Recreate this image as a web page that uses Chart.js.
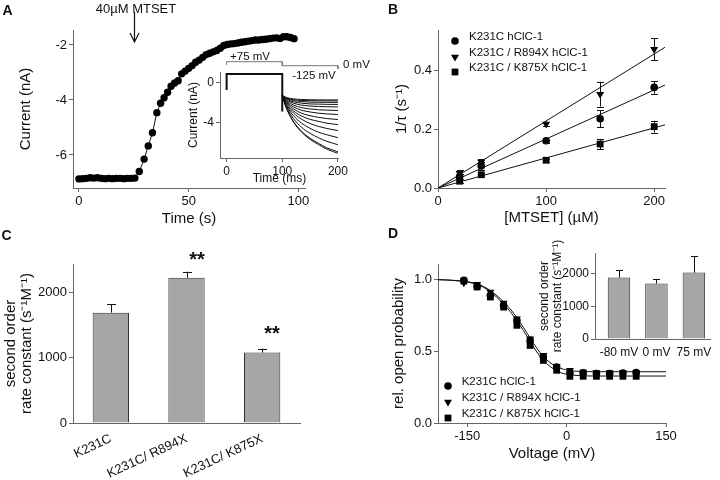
<!DOCTYPE html>
<html><head><meta charset="utf-8">
<script src="https://cdn.jsdelivr.net/npm/chart.js@4.4.1/dist/chart.umd.min.js"></script>
<style>
html,body{margin:0;padding:0;background:#fff}
body{width:720px;height:480px;position:relative;overflow:hidden;font-family:"Liberation Sans",Arial,Helvetica,sans-serif;color:#111}
canvas{position:absolute}
.t{position:absolute;white-space:nowrap;line-height:1}
.m{position:absolute;width:10px;height:10px}
</style></head><body>
<canvas id="cA" width="360" height="240" style="left:0;top:0"></canvas>
<canvas id="cAi" width="190" height="130" style="left:160px;top:60px"></canvas>
<canvas id="cB" width="360" height="240" style="left:360px;top:0"></canvas>
<canvas id="cC" width="360" height="240" style="left:0;top:240px"></canvas>
<canvas id="cD" width="360" height="240" style="left:360px;top:240px"></canvas>
<canvas id="cDi" width="185" height="122" style="left:535px;top:238px"></canvas>
<script>
// ================= DATA =================
// Panel A: time course of current during 40 µM MTSET
const mtsetTime = 25;
const timeA = [0,1.7,3.4,5.1,6.8,8.5,10.2,11.9,13.6,15.3,17,18.7,20.4,22.1,23.8,25.5,27.5,29.7,31.6,33.5,35.5,37.2,38.8,40.4,42.0,43.6,45.2,46.8,48.4,50.0,51.6,53.2,54.8,56.4,58.0,59.6,61.2,62.8,64.4,66.0,67.6,69.2,70.8,72.4,74.0,75.6,77.2,78.8,80.4,82.0,83.6,85.2,86.8,88.4,90.0,91.6,93.2,94.8,96.4,98.0];
const currentA = [-6.87,-6.86,-6.85,-6.83,-6.84,-6.83,-6.85,-6.86,-6.85,-6.86,-6.85,-6.85,-6.86,-6.85,-6.85,-6.84,-6.6,-6.15,-5.67,-5.19,-4.46,-4.12,-3.92,-3.72,-3.5,-3.38,-3.3,-3.05,-2.95,-2.85,-2.75,-2.63,-2.55,-2.45,-2.35,-2.3,-2.25,-2.2,-2.12,-2.02,-1.98,-1.96,-1.95,-1.93,-1.9,-1.88,-1.86,-1.84,-1.82,-1.82,-1.8,-1.79,-1.77,-1.75,-1.74,-1.76,-1.7,-1.7,-1.73,-1.77];
const ticksAx = [0,50,100];
const ticksAy = [-2,-4,-6];

// Panel A inset: current traces (ms, nA)
const prepulseTime = [0,0,0,100,100,100];
const prepulseCurrent = [0.82,-0.76,0.82,0.82,-2.9,-1.3];
const traceTime = [100,105,110,120,135,150,165,180,200];
const traceCurrents = [
  [-1.3,-1.46,-1.55,-1.65,-1.71,-1.74,-1.75,-1.75,-1.75],
  [-1.3,-1.49,-1.6,-1.73,-1.81,-1.83,-1.84,-1.85,-1.85],
  [-1.3,-1.52,-1.65,-1.82,-1.92,-1.97,-1.99,-1.99,-2.0],
  [-1.3,-1.57,-1.73,-1.94,-2.08,-2.15,-2.17,-2.19,-2.2],
  [-1.3,-1.62,-1.82,-2.08,-2.27,-2.36,-2.4,-2.43,-2.45],
  [-1.3,-1.69,-1.93,-2.26,-2.52,-2.65,-2.73,-2.77,-2.8],
  [-1.3,-1.76,-2.04,-2.44,-2.78,-2.95,-3.07,-3.14,-3.2],
  [-1.3,-1.83,-2.16,-2.64,-3.08,-3.32,-3.48,-3.6,-3.7],
  [-1.3,-1.88,-2.29,-2.84,-3.36,-3.68,-3.88,-4.06,-4.2],
  [-1.3,-1.97,-2.42,-3.05,-3.68,-4.1,-4.38,-4.59,-4.8],
  [-1.3,-2.06,-2.56,-3.32,-4.07,-4.58,-4.95,-5.21,-5.5],
  [-1.3,-2.13,-2.72,-3.6,-4.49,-5.07,-5.51,-5.86,-6.2],
  [-1.3,-2.2,-2.87,-3.88,-4.88,-5.56,-6.06,-6.51,-6.9],
  [-1.3,-2.2,-2.9,-3.95,-4.97,-5.67,-6.18,-6.64,-7.05]
];
const protocolTime = [0,0,100,100,200,200];
const protocolLevel = [93,96.3,96.3,92.3,92.3,89];   // schematic step levels (+75 / -125 / 0 mV)
const ticksAix = [0,100,200];
const ticksAiy = [0,-4];

// Panel B: 1/tau vs [MTSET]
const conc = [20,40,100,150,200];
const rateWT = [0.039,0.075,0.16,0.235,0.341];
const errWT = [0.01,0.014,0.006,0.029,0.021];
const rateR894X = [0.05,0.088,0.217,0.318,0.47];
const errR894X = [0.01,0.01,0.008,0.042,0.037];
const rateK875X = [0.023,0.045,0.094,0.149,0.208];
const errK875X = [0.006,0.006,0.005,0.017,0.02];
const fitConc = [0,210];
const fitWT = [0,0.349];
const fitR894X = [0,0.477];
const fitK875X = [0,0.214];
const ticksBx = [0,100,200];
const ticksBy = [0,0.2,0.4];
const seriesNames = ['K231C hClC-1','K231C / R894X hClC-1','K231C / K875X hClC-1'];

// Panel C: second order rate constants
const constructsC = ['K231C','K231C/ R894X','K231C/ K875X'];
const rateC = [1690,2226,1078];
const errC = [127,92,61];
const signifC = ['','**','**'];
const ticksCy = [0,1000,2000];

// Panel D: relative open probability
const voltD = [-155,-135,-115,-95,-75,-55,-35,-15,5,25,45,65,85,105];
const poWT = [0.993,0.951,0.889,0.819,0.715,0.575,0.459,0.39,0.352,0.35,0.345,0.345,0.348,0.352];
const poR894X = [0.977,0.965,0.912,0.835,0.726,0.587,0.471,0.394,0.367,0.355,0.352,0.352,0.352,0.352];
const poK875X = [0.988,0.947,0.877,0.807,0.68,0.54,0.436,0.367,0.325,0.325,0.325,0.325,0.325,0.325];
const fitVolt = [-194,-180,-170,-160,-150,-140,-130,-120,-110,-100,-90,-80,-70,-60,-50,-40,-30,-20,-10,0,10,20,30,40,60,80,100,150];
const fitUpper = [0.998,0.996,0.993,0.99,0.985,0.975,0.96,0.937,0.905,0.866,0.82,0.765,0.70,0.628,0.555,0.49,0.44,0.405,0.382,0.369,0.362,0.359,0.358,0.357,0.357,0.357,0.357,0.357];
const fitLower = [0.998,0.995,0.992,0.988,0.982,0.971,0.955,0.93,0.895,0.852,0.803,0.745,0.68,0.605,0.53,0.463,0.413,0.377,0.352,0.339,0.333,0.33,0.328,0.327,0.327,0.327,0.327,0.327];
const ticksDx = [-150,0,150];
const ticksDy = [0,0.5,1.0];

// Panel D inset: rate constants at different voltages
const voltagesDi = ['-80 mV','0 mV','75 mV'];
const rateDi = [1878,1694,2030];
const errDi = [222,132,500];
const ticksDiy = [0,1000,2000];

// ================= HELPERS =================
const FONT = "'Liberation Sans', Arial, Helvetica, sans-serif";
Chart.defaults.font.family = FONT;
Chart.defaults.color = '#111';
Chart.defaults.animation = false;
Chart.defaults.responsive = false;
Chart.defaults.events = [];
Chart.defaults.plugins.legend.display = false;
Chart.defaults.plugins.tooltip.enabled = false;
const AXC = '#666';
const BAR = '#a6a6a6';

function pts(xs, ys){ return xs.map((x,i)=>({x:x, y:ys[i]})); }

function ax(o){
  const a = {
    type: o.type || 'linear',
    display: o.display === undefined ? true : o.display,
    bounds: 'data',
    border: {display:true, color:AXC, width:1},
    grid: {display: o.grid !== false, drawOnChartArea:false, drawTicks:true, tickLength:4, color:AXC, lineWidth:1, offset:false},
    ticks: {font:{size:o.fs||13}, color:'#111', padding: o.tp===undefined?2:o.tp, maxRotation:o.rot||0, minRotation:o.rot||0, autoSkip:false},
    title: o.title ? {display:true, text:o.title, color:'#111', font:{size:o.tfs||15, lineHeight:o.tlh||1.2}, padding:o.tpad} : {display:false},
    afterFit: s => { if (o.h !== undefined) s.height = o.h; if (o.w !== undefined) s.width = o.w; }
  };
  if (o.min !== undefined) a.min = o.min;
  if (o.max !== undefined) a.max = o.max;
  if (o.fmt) a.ticks.callback = o.fmt;
  if (o.ticks) a.afterBuildTicks = s => { s.ticks = o.ticks.map(v=>({value:v})); };
  a.offset = o.offset === undefined ? false : o.offset;
  return a;
}

const errorBars = {
  id: 'errorBars',
  afterDatasetsDraw(chart){
    const ctx = chart.ctx;
    chart.data.datasets.forEach((ds, i) => {
      if (!ds.err) return;
      const meta = chart.getDatasetMeta(i);
      const ys = chart.scales[meta.yAxisID];
      ctx.save();
      ctx.strokeStyle = '#111'; ctx.lineWidth = 1;
      meta.data.forEach((el, j) => {
        const d = ds.data[j];
        const v = (typeof d === 'object') ? d.y : d;
        const e = ds.err[j];
        const x = Math.round(el.x) + 0.5;
        const yT = ys.getPixelForValue(v + e);
        const yB = ds.upOnly ? ys.getPixelForValue(v) : ys.getPixelForValue(v - e);
        const c = ds.capW / 2;
        ctx.beginPath();
        ctx.moveTo(x, yB); ctx.lineTo(x, yT);
        ctx.moveTo(x - c, Math.round(yT)+0.5); ctx.lineTo(x + c, Math.round(yT)+0.5);
        if (!ds.upOnly) { ctx.moveTo(x - c, Math.round(yB)+0.5); ctx.lineTo(x + c, Math.round(yB)+0.5); }
        ctx.stroke();
      });
      ctx.restore();
    });
  }
};
Chart.register(errorBars);

const arrowPlugin = {
  id: 'mtsetArrow',
  afterDraw(chart){
    if (chart.canvas.id !== 'cA') return;
    const ctx = chart.ctx;
    const x = Math.round(chart.scales.x.getPixelForValue(mtsetTime)) + 0.5;
    const top = chart.chartArea.top;
    ctx.save();
    ctx.strokeStyle = '#111'; ctx.lineWidth = 1.2;
    ctx.beginPath();
    ctx.moveTo(x, top - 18); ctx.lineTo(x, top + 12);
    ctx.moveTo(x - 4.5, top + 3); ctx.lineTo(x, top + 12); ctx.lineTo(x + 4.5, top + 3);
    ctx.stroke();
    ctx.restore();
  }
};
Chart.register(arrowPlugin);

const base = (pad) => ({responsive:false, animation:false, layout:{padding:pad}});

// ================= PANEL A =================
new Chart(document.getElementById('cA'), {
  type: 'scatter',
  data: {datasets: [{
    data: pts(timeA, currentA), showLine: true, borderColor: '#111', borderWidth: 1,
    pointRadius: 3.7, pointBackgroundColor: '#000', pointBorderWidth: 0
  }]},
  options: Object.assign(base({left:0, top:30, right:55, bottom:0}), {
    scales: {
      x: ax({min:-2.7, max:103, ticks:ticksAx, fmt:v=>String(v), h:52, title:'Time (s)', tpad:{top:0,bottom:12}}),
      y: ax({min:-7.2, max:-1.455, ticks:ticksAy, fmt:v=>String(v), w:73, title:'Current (nA)', tpad:{top:17,bottom:0}})
    }
  })
});

// ================= PANEL A INSET =================
const insetSets = traceCurrents.map(tr => ({
  data: pts(traceTime, tr), showLine: true, borderColor: '#111', borderWidth: 1,
  pointRadius: 0, cubicInterpolationMode: 'monotone'
}));
insetSets.push({data: pts(prepulseTime, prepulseCurrent), showLine: true, borderColor: '#111', borderWidth: 2, pointRadius: 0});
insetSets.push({data: pts(protocolTime, protocolLevel), showLine: true, borderColor: '#777', borderWidth: 1, pointRadius: 0, yAxisID: 'yp', clip: false});
new Chart(document.getElementById('cAi'), {
  type: 'scatter',
  data: {datasets: insetSets},
  options: Object.assign(base({left:0, top:12, right:10, bottom:0}), {
    scales: {
      x: ax({min:-11.9, max:201.6, ticks:ticksAix, fmt:v=>String(v), fs:12, h:32, title:'Time (ms)', tfs:12, tpad:{top:0,bottom:3.8}}),
      y: ax({min:-7.52, max:1.02, ticks:ticksAiy, fmt:v=>String(v), fs:12, w:60, title:'Current (nA)', tfs:12, tpad:{top:26.8,bottom:0}}),
      yp: {type:'linear', display:false, min:0, max:86}
    }
  })
});

// ================= PANEL B =================
const markerStyles = [
  {pointStyle:'circle', pointRadius:3.8, pointRotation:0},
  {pointStyle:'triangle', pointRadius:4.6, pointRotation:180},
  {pointStyle:'rect', pointRadius:4.8, pointRotation:0}
];
function markerSet(xs, ys, k, err){
  return Object.assign({data: pts(xs, ys), pointBackgroundColor:'#000', pointBorderColor:'#000', pointBorderWidth:0, showLine:false, err: err, capW: 7}, markerStyles[k]);
}
function fitSet(xs, ys, mono){
  return {data: pts(xs, ys), showLine:true, borderColor:'#111', borderWidth:1, pointRadius:0, cubicInterpolationMode: mono ? 'monotone' : 'default'};
}
new Chart(document.getElementById('cB'), {
  type: 'scatter',
  data: {datasets: [
    markerSet(conc, rateWT, 0, errWT),
    markerSet(conc, rateR894X, 1, errR894X),
    markerSet(conc, rateK875X, 2, errK875X),
    fitSet(fitConc, fitWT), fitSet(fitConc, fitR894X), fitSet(fitConc, fitK875X)
  ]},
  options: Object.assign(base({left:0, top:30, right:55, bottom:0}), {
    scales: {
      x: ax({min:0, max:210, ticks:ticksBx, fmt:v=>String(v), h:52, title:'[MTSET] (µM)', tpad:{top:0,bottom:13}}),
      y: ax({min:0, max:0.5356, ticks:ticksBy, fmt:v=>v.toFixed(1), w:78, title:'1/τ (s⁻¹)', tpad:{top:33,bottom:0}})
    }
  })
});

// ================= PANEL C =================
new Chart(document.getElementById('cC'), {
  type: 'bar',
  data: {labels: constructsC, datasets: [{
    data: rateC, backgroundColor: BAR, borderColor: '#333', borderWidth: 1,
    barPercentage: 0.48, categoryPercentage: 1, err: errC, upOnly: true, capW: 9
  }]},
  options: Object.assign(base({left:0, top:24, right:60, bottom:0}), {
    scales: {
      x: ax({type:'category', grid:false, h:57, fs:13, rot:25, tp:4, offset:true}),
      y: ax({min:0, max:2435, ticks:ticksCy, fmt:v=>String(v), w:73, title:['second order','rate constant (s⁻¹M⁻¹)'], tlh:1.1, tpad:{top:2.3,bottom:0}})
    }
  })
});

// ================= PANEL D =================
new Chart(document.getElementById('cD'), {
  type: 'scatter',
  data: {datasets: [
    markerSet(voltD, poWT, 0),
    markerSet(voltD, poR894X, 1),
    markerSet(voltD, poK875X, 2),
    fitSet(fitVolt, fitUpper, true), fitSet(fitVolt, fitLower, true)
  ]},
  options: Object.assign(base({left:0, top:24, right:54, bottom:0}), {
    scales: {
      x: ax({min:-194, max:150, ticks:ticksDx, fmt:v=>String(v), h:57, title:'Voltage (mV)', tpad:{top:0,bottom:17.5}}),
      y: ax({min:0, max:1.107, ticks:ticksDy, fmt:v=>v.toFixed(1), w:78, title:'rel. open probability', tpad:{top:30,bottom:0}})
    }
  })
});

// ================= PANEL D INSET =================
new Chart(document.getElementById('cDi'), {
  type: 'bar',
  data: {datasets: [{
    data: voltagesDi.map((v,i)=>({x:i+1, y:rateDi[i]})), backgroundColor: BAR, borderColor: '#333', borderWidth: 1,
    barPercentage: 0.6, categoryPercentage: 1, err: errDi, upOnly: true, capW: 7
  }]},
  options: Object.assign(base({left:0, top:15, right:10, bottom:0}), {
    scales: {
      x: ax({min:0.36, max:3.43, ticks:[1,2,3], fmt:v=>voltagesDi[Math.round(v)-1], grid:false, fs:12, h:21, tp:2, offset:false}),
      y: ax({min:0, max:2630, ticks:ticksDiy, fmt:v=>String(v), fs:12, w:60, title:['second order','rate constant (s⁻¹M⁻¹)'], tfs:12, tlh:1.05, tpad:{top:3.7,bottom:0}})
    }
  })
});

// ================= TEXT ANNOTATIONS =================
const notes = [
  {t:'A', x:7.5, y:10, s:14, b:1},
  {t:'B', x:393, y:9, s:14, b:1},
  {t:'C', x:6.5, y:234.5, s:14, b:1},
  {t:'D', x:393, y:233, s:14, b:1},
  {t:'40µM MTSET', x:136, y:7.5, s:13},
  {t:'+75 mV', x:250, y:56.5, s:11.5},
  {t:'-125 mV', x:314, y:76, s:11.5},
  {t:'0 mV', x:343, y:65, s:11.5, l:1},
  {t:signifC[1], x:197, y:259, s:20, b:1},
  {t:signifC[2], x:272, y:333, s:20, b:1}
];
function addText(n){
  const d = document.createElement('div');
  d.className = 't'; d.textContent = n.t;
  d.style.left = n.x + 'px'; d.style.top = n.y + 'px'; d.style.fontSize = n.s + 'px';
  if (n.b) d.style.fontWeight = 'bold';
  d.style.transform = n.l ? 'translate(0,-50%)' : 'translate(-50%,-50%)';
  document.body.appendChild(d);
}
notes.forEach(addText);

const shapes = [
  '<circle cx="5" cy="5" r="3.8" fill="#000"/>',
  '<polygon points="1,2.7 9,2.7 5,9.6" fill="#000"/>',
  '<rect x="1.6" y="1.6" width="6.8" height="6.8" fill="#000"/>'
];
function legend(mx, tx, ys, fs){
  seriesNames.forEach((name, k) => {
    const m = document.createElement('div');
    m.className = 'm';
    m.style.left = (mx - 5) + 'px'; m.style.top = (ys[k] - 5) + 'px';
    m.innerHTML = '<svg width="10" height="10" viewBox="0 0 10 10">' + shapes[k] + '</svg>';
    document.body.appendChild(m);
    addText({t:name, x:tx, y:ys[k], s:fs, l:1});
  });
}
legend(455, 469, [36.7,53.3,68.3], 11.5);
legend(448.3, 461.7, [381.7,398.3,414], 11.5);
</script>
</body></html>
